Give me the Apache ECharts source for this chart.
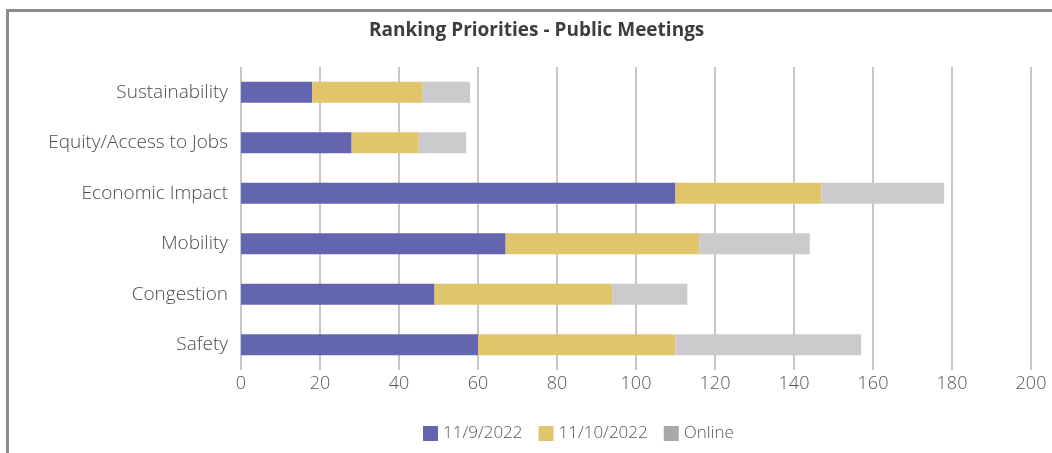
<!doctype html>
<html>
<head>
    <meta http-equiv="Content-Type" content="text/html; charset=utf-8">
    <title>Ranking Priorities - Public Meetings</title>
    <script src="https://cdn.jsdelivr.net/npm/echarts@6/dist/echarts.min.js"></script>
    <style>
        html, body { margin: 0; padding: 0; background: #fff; }
        #frame { position: absolute; left: 6px; top: 9px; width: 1060px; height: 460px;
                 border-left: 3px solid #8c8c8c; border-top: 3px solid #8c8c8c; }
        #main { position: absolute; left: 0; top: 0; width: 1052px; height: 453px; }
    </style>
</head>
<body>
<div id="frame"></div>
<div id="main"></div>
<script type="text/javascript">
    var categories = ['Sustainability', 'Equity/Access to Jobs', 'Economic Impact', 'Mobility', 'Congestion', 'Safety'];
    var day1 = [18, 28, 110, 67, 49, 60];      // 11/9/2022
    var day2 = [28, 17, 37, 49, 45, 50];       // 11/10/2022
    var online = [12, 12, 31, 28, 19, 47];     // Online
    var seriesNames = ['11/9/2022', '11/10/2022', 'Online'];

    var font = '"Open Sans", "Liberation Sans", sans-serif';
    var myChart = echarts.init(document.getElementById('main'));

    function bar(name, data, color) {
        return {
            name: name,
            type: 'bar',
            stack: 'total',
            barWidth: 21,
            data: data,
            itemStyle: { color: color },
            emphasis: { disabled: true }
        };
    }

    option = {
        animation: false,
        title: {
            text: 'Ranking Priorities - Public Meetings',
            left: 364,
            top: 16,
            textStyle: { fontFamily: font, fontSize: 19, fontWeight: 'bold', color: '#3d3d3d' }
        },
        grid: { left: 241, right: 21, top: 67, bottom: 83 },
        legend: {
            data: [
                { name: seriesNames[0] },
                { name: seriesNames[1] },
                { name: seriesNames[2], itemStyle: { color: '#a9a9a9' } }
            ],
            bottom: 6,
            left: 418,
            itemWidth: 15,
            itemHeight: 15,
            itemGap: 16,
            icon: 'rect',
            textStyle: { fontFamily: font, fontSize: 17, fontWeight: 300, color: '#555' }
        },
        xAxis: {
            type: 'value',
            min: 0,
            max: 200,
            interval: 20,
            axisLine: { show: false },
            axisTick: { show: false },
            axisLabel: { fontFamily: font, fontSize: 18, fontWeight: 300, color: '#555', margin: 5 },
            splitLine: { lineStyle: { color: '#b5b5b5', width: 1.5 } }
        },
        yAxis: {
            type: 'category',
            inverse: true,
            data: categories,
            axisLine: { show: false },
            axisTick: { show: false },
            axisLabel: { fontFamily: font, fontSize: 19, fontWeight: 300, color: '#4a4a4a', margin: 13 }
        },
        series: [
            bar(seriesNames[0], day1, '#6366ae'),
            bar(seriesNames[1], day2, '#e0c56c'),
            bar(seriesNames[2], online, '#cbcbcd')
        ]
    };

    myChart.setOption(option);
</script>
</body>
</html>
